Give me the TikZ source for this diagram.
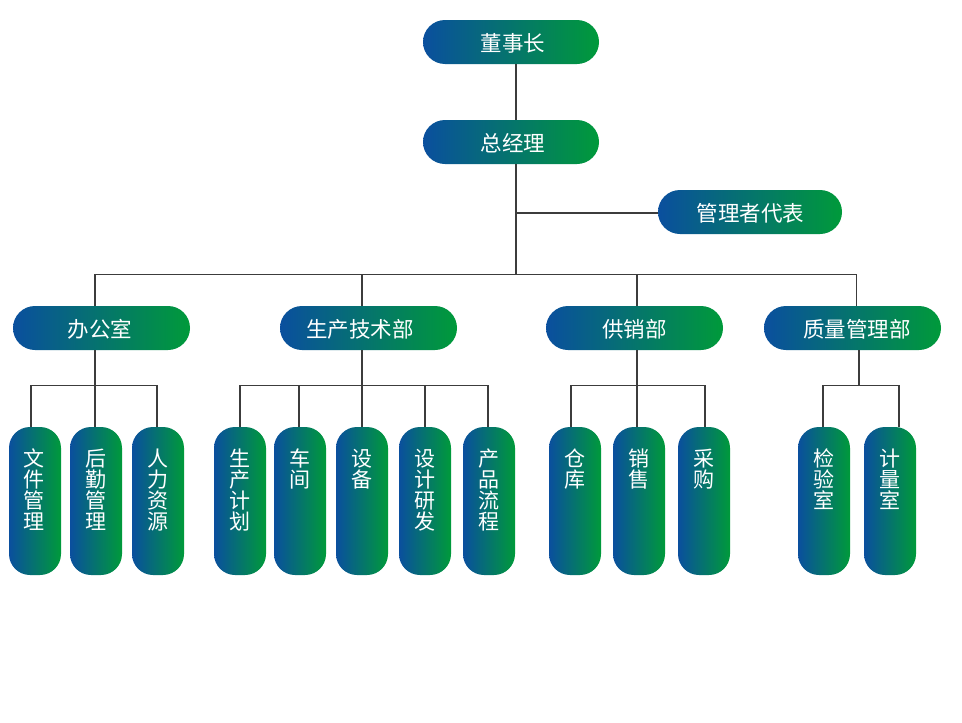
\documentclass[tikz,border=0pt]{standalone}
\usepackage{fontspec}
\setmainfont{Noto Sans CJK SC}
\definecolor{cblue}{HTML}{0A4F9E}
\definecolor{cgreen}{HTML}{009A3A}
\definecolor{cline}{HTML}{3C3C3C}
\begin{document}
\begin{tikzpicture}[x=1pt,y=-1pt,
  box/.style={rounded corners=22pt, left color=cblue, right color=cgreen, draw=none,
    minimum width=176pt, minimum height=44pt, inner sep=0pt},
  btext/.style={text=white, inner sep=0pt, font=\fontsize{21.5}{24}\selectfont},
  leaf/.style={rounded corners=21pt, left color=cblue, right color=cgreen, draw=none,
    minimum width=52pt, minimum height=148pt, inner sep=0pt},
  ltext/.style={text=white, inner sep=0pt, align=center, anchor=north,
    font=\fontsize{21}{21}\selectfont},
  conn/.style={draw=cline, line width=1.1pt}]
\useasboundingbox[fill=white] (0,0) rectangle (962,723);

% level 0/1
\node[box] (dsz) at (511,42) {};
\node[btext] (dszt) at (513,43) {董事长};
\node[box] (zjl) at (511,142) {};
\node[btext] (zjlt) at (513,143) {总经理};
\node[box, minimum width=184pt] (glz) at (750,212) {};
\node[btext] (glzt) at (750.5,213) {管理者代表};

% level 2
\node[box, minimum width=177pt] (bgs) at (101.5,328) {};
\node[btext] (bgst) at (100,329) {办公室};
\node[box, minimum width=177pt] (scjs) at (368.5,328) {};
\node[btext] (scjst) at (360,329) {生产技术部};
\node[box, minimum width=177pt] (gxb) at (634.5,328) {};
\node[btext] (gxbt) at (634.5,329) {供销部};
\node[box, minimum width=177pt] (zlglb) at (852.5,328) {};
\node[btext] (zlglbt) at (857,329) {质量管理部};

% leaves
\node[leaf] (l11) at (35,501) {};
\node[leaf] (l12) at (96,501) {};
\node[leaf] (l13) at (158,501) {};
\node[leaf] (l21) at (240,501) {};
\node[leaf] (l22) at (300,501) {};
\node[leaf] (l23) at (362,501) {};
\node[leaf] (l24) at (425,501) {};
\node[leaf] (l25) at (489,501) {};
\node[leaf] (l31) at (575,501) {};
\node[leaf] (l32) at (639,501) {};
\node[leaf] (l33) at (704,501) {};
\node[leaf] (l41) at (824,501) {};
\node[leaf] (l42) at (890,501) {};

\node[ltext] (t11) at ([xshift=-1pt,yshift=-22pt]l11.north) {文\\件\\管\\理};
\node[ltext] (t12) at ([yshift=-22pt]l12.north) {后\\勤\\管\\理};
\node[ltext] (t13) at ([yshift=-22pt]l13.north) {人\\力\\资\\源};
\node[ltext] (t21) at ([yshift=-22pt]l21.north) {生\\产\\计\\划};
\node[ltext] (t22) at ([yshift=-22pt]l22.north) {车\\间};
\node[ltext] (t23) at ([yshift=-22pt]l23.north) {设\\备};
\node[ltext] (t24) at ([yshift=-22pt]l24.north) {设\\计\\研\\发};
\node[ltext] (t25) at ([yshift=-22pt]l25.north) {产\\品\\流\\程};
\node[ltext] (t31) at ([yshift=-22pt]l31.north) {仓\\库};
\node[ltext] (t32) at ([yshift=-22pt]l32.north) {销\\售};
\node[ltext] (t33) at ([yshift=-22pt]l33.north) {采\\购};
\node[ltext] (t41) at ([yshift=-22pt]l41.north) {检\\验\\室};
\node[ltext] (t42) at ([yshift=-22pt]l42.north) {计\\量\\室};

% connectors top
\coordinate (trunk) at (516,275);
\draw[conn] ([xshift=5pt]dsz.south) -- ([xshift=5pt]zjl.north);
\draw[conn] ([xshift=5pt]zjl.south) -- (trunk);
\draw[conn] (glz.west |- 0,213) -- (trunk |- 0,213);
\draw[conn] ([xshift=-6.5pt]bgs.north) -- ++(0,-31) -| ([xshift=4pt]zlglb.north);
\draw[conn] ([xshift=-6.5pt]scjs.north) -- ++(0,-31);
\draw[conn] ([xshift=2.5pt]gxb.north) -- ++(0,-31);

% group 1
\draw[conn] ([xshift=-4pt]l11.north) -- ++(0,-41) -| ([xshift=-1pt]l13.north);
\draw[conn] ([xshift=-6.5pt]bgs.south) -- ([xshift=-1pt]l12.north);
% group 2
\draw[conn] (l21.north) -- ++(0,-41) -| ([xshift=-1pt]l25.north);
\draw[conn] ([xshift=-1pt]l22.north) -- ++(0,-41);
\draw[conn] ([xshift=-6.5pt]scjs.south) -- (l23.north);
\draw[conn] (l24.north) -- ++(0,-41);
% group 3
\draw[conn] ([xshift=-4pt]l31.north) -- ++(0,-41) -| ([xshift=1pt]l33.north);
\draw[conn] ([xshift=2.5pt]gxb.south) -- ([xshift=-2pt]l32.north);
% group 4
\draw[conn] ([xshift=-1pt]l41.north) -- ++(0,-41) -| ([xshift=9pt]l42.north);
\draw[conn] ([xshift=6.5pt]zlglb.south) -- ++(0,36);
\end{tikzpicture}
\end{document}
